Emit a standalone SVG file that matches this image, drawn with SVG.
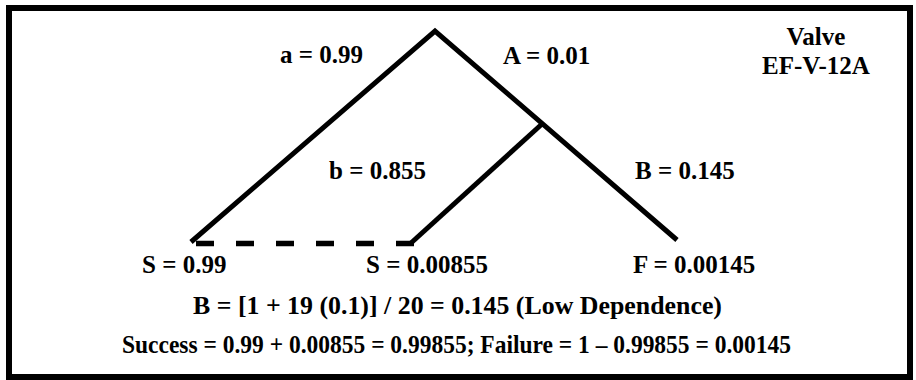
<svg xmlns="http://www.w3.org/2000/svg" width="916" height="380" viewBox="0 0 916 380">
<style>
.t{font-family:'Liberation Serif','Times New Roman',Times,serif;font-weight:700;font-size:25px;fill:#000}
.m{text-anchor:middle}
.br{stroke:#000;stroke-width:5;fill:none;stroke-linecap:butt}
.dash{stroke:#000;stroke-width:5.5;stroke-dasharray:18 22;fill:none}
</style>
<rect x="9" y="8" width="901" height="369" fill="#fff" stroke="#000" stroke-width="6"/>
<g id="connectors">
<polyline class="br" points="191,242 435,31 677,240"/>
<line class="br" x1="542" y1="124" x2="411" y2="243"/>
<line class="dash" x1="196" y1="243.5" x2="418" y2="243.5"/>
</g>
<g id="label-a"><text class="t" x="280" y="63">a = 0.99</text></g>
<g id="label-A"><text class="t" x="503" y="64">A = 0.01</text></g>
<g id="title"><text class="t m" x="816" y="45">Valve</text><text class="t m" x="816" y="74">EF-V-12A</text></g>
<g id="label-b"><text class="t" x="329" y="179">b = 0.855</text></g>
<g id="label-B"><text class="t" x="635" y="179">B = 0.145</text></g>
<g id="end-s1"><text class="t" x="142" y="273">S = 0.99</text></g>
<g id="end-s2"><text class="t" x="366" y="273">S = 0.00855</text></g>
<g id="end-f"><text class="t" x="633" y="273">F = 0.00145</text></g>
<g id="formula"><text class="t" x="193" y="314" textLength="529" lengthAdjust="spacingAndGlyphs">B = [1 + 19 (0.1)] / 20 = 0.145 (Low Dependence)</text></g>
<g id="result"><text class="t" x="122" y="353" textLength="669" lengthAdjust="spacingAndGlyphs">Success = 0.99 + 0.00855 = 0.99855; Failure = 1 – 0.99855 = 0.00145</text></g>
</svg>
